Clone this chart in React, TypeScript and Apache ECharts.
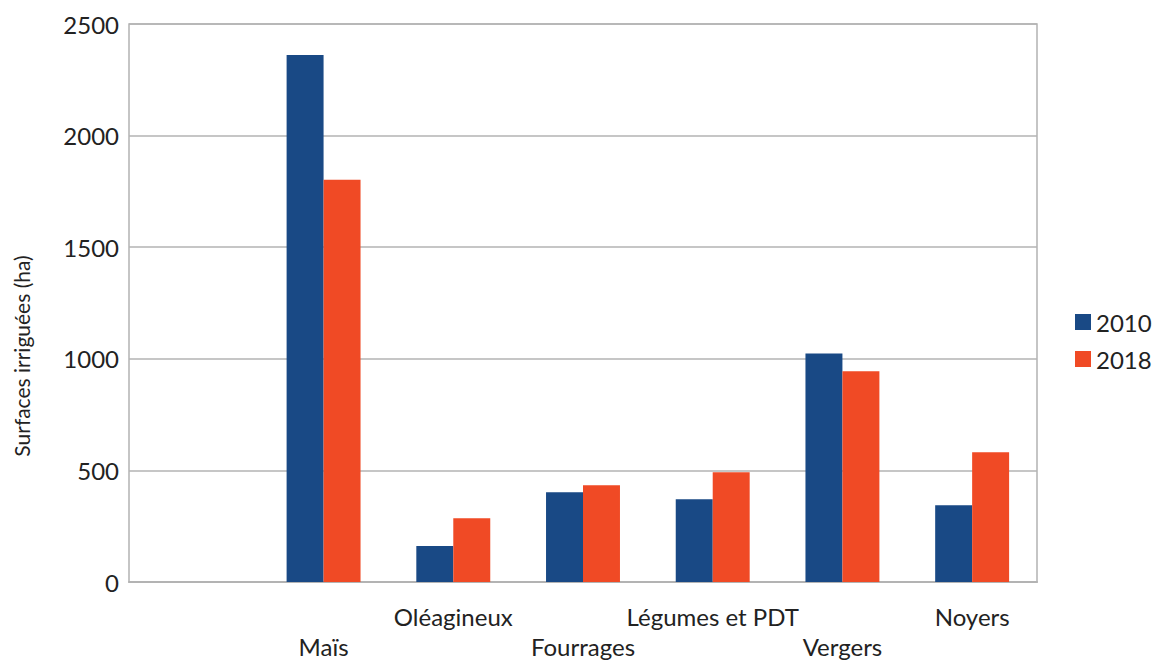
import React, { useEffect, useRef } from "react";
import * as echarts from "echarts";

const categories = ["", "Maïs", "Oléagineux", "Fourrages", "Légumes et PDT", "Vergers", "Noyers"];
const values2010 = [null, 2361, 161, 402, 371, 1024, 344];
const values2018 = [null, 1802, 286, 434, 492, 944, 581];
const yTicks = { min: 0, max: 2500, interval: 500 };

const FONT = "Lato, 'Open Sans', sans-serif";

export default function App() {
  const ref = useRef<HTMLDivElement>(null);
  useEffect(() => {
    if (!ref.current) return;
    const chart = echarts.init(ref.current, null, { renderer: "svg" });
    chart.setOption({
      animation: false,
      backgroundColor: "#ffffff",
      textStyle: { fontFamily: FONT },
      grid: {
        left: 129,
        right: 116,
        top: 24,
        bottom: 78,
        show: true,
        borderColor: "#b3b3b3",
        borderWidth: 1.5,
        containLabel: false,
      },
      legend: {
        orient: "vertical",
        left: 1070,
        top: 305,
        itemWidth: 16,
        itemHeight: 16,
        itemGap: 13,
        icon: "rect",
        textStyle: { fontSize: 24, color: "#222", fontFamily: FONT },
        data: ["2010", "2018"],
      },
      graphic: [
        {
          type: "text",
          x: 21,
          y: 356,
          rotation: Math.PI / 2,
          style: {
            text: "Surfaces irriguées (ha)",
            fontSize: 21,
            fill: "#222",
            fontFamily: FONT,
            align: "center",
            verticalAlign: "middle",
          },
        },
      ],
      xAxis: {
        type: "category",
        data: categories,
        axisLine: { show: true, lineStyle: { color: "#b3b3b3", width: 2 } },
        axisTick: { show: false },
        axisLabel: {
          interval: 0,
          margin: 19,
          fontSize: 24,
          lineHeight: 30,
          color: "#222",
          fontFamily: FONT,
          formatter: (value: string, index: number) => (index % 2 === 1 ? "\n" + value : value),
        },
      },
      yAxis: {
        type: "value",
        min: yTicks.min,
        max: yTicks.max,
        interval: yTicks.interval,
        axisLine: { show: false },
        axisTick: { show: false },
        axisLabel: {
          fontSize: 24,
          color: "#222",
          margin: 10,
          fontFamily: FONT,
          formatter: (v: number) => String(v),
        },
        splitLine: { lineStyle: { color: "#b3b3b3", width: 1.5 } },
      },
      series: [
        {
          name: "2010",
          type: "bar",
          data: values2010,
          itemStyle: { color: "#194985" },
          barGap: "0%",
          barCategoryGap: "43%",
        },
        {
          name: "2018",
          type: "bar",
          data: values2018,
          itemStyle: { color: "#f04a25" },
          barGap: "0%",
          barCategoryGap: "43%",
        },
      ],
    });
    return () => chart.dispose();
  }, []);
  return (
    <div
      ref={ref}
      style={{ position: "fixed", left: 0, top: 0, width: 1153, height: 661 }}
    />
  );
}
